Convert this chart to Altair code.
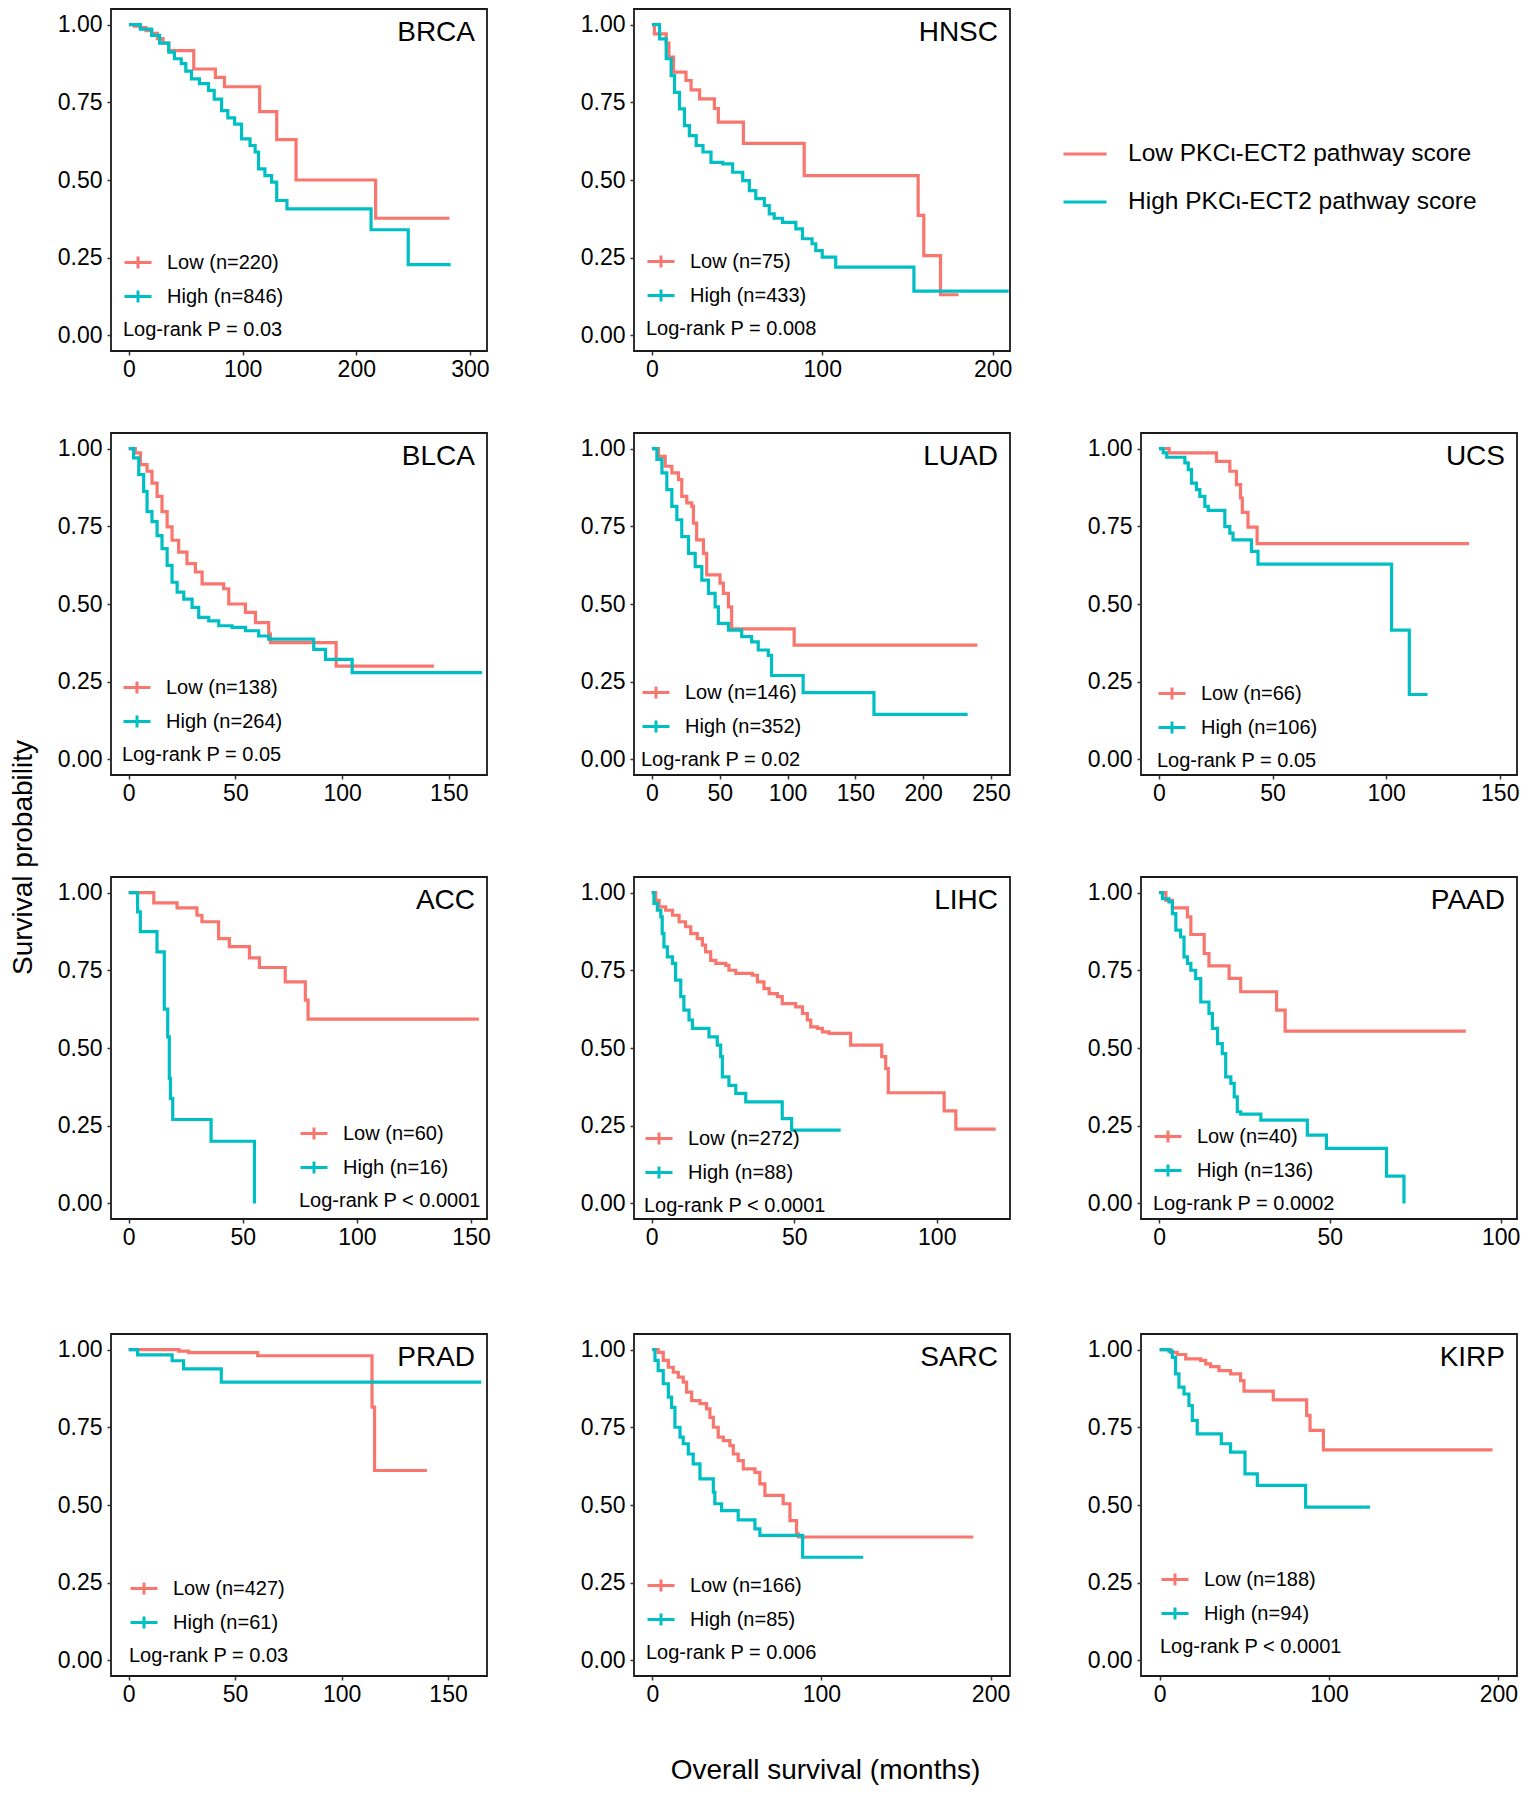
import altair as alt
import pandas as pd

RED = "#F8766D"
TEAL = "#00BFC4"
FONT = "Liberation Sans"

# ---------------- data ----------------
PANELS = ["BRCA", "HNSC", "BLCA", "LUAD", "UCS", "ACC", "LIHC", "PAAD", "PRAD", "SARC", "KIRP"]
N_LOW = [220, 75, 138, 146, 66, 60, 272, 40, 427, 166, 188]
N_HIGH = [846, 433, 264, 352, 106, 16, 88, 136, 61, 85, 94]
P_TEXT = ["= 0.03", "= 0.008", "= 0.05", "= 0.02", "= 0.05", "< 0.0001", "< 0.0001",
          "= 0.0002", "= 0.03", "= 0.006", "< 0.0001"]
X_TICKS = [[0, 100, 200, 300], [0, 100, 200], [0, 50, 100, 150], [0, 50, 100, 150, 200, 250],
           [0, 50, 100, 150], [0, 50, 100, 150], [0, 50, 100], [0, 50, 100],
           [0, 50, 100, 150], [0, 100, 200], [0, 100, 200]]
Y_TICKS = [0, 0.25, 0.5, 0.75, 1.0]

BRCA_LOW_T = [0, 5, 10, 15, 20, 25, 30, 35, 57, 76, 84, 115, 130, 147, 217, 282]
BRCA_LOW_S = [1.0, 0.995, 0.99, 0.98, 0.972, 0.955, 0.94, 0.916, 0.857, 0.83, 0.80, 0.72, 0.63, 0.50, 0.377, 0.377]
BRCA_HIGH_T = [0, 10, 20, 27, 35, 40, 46, 50, 55, 62, 70, 75, 81.5, 87, 93, 99, 106.5, 111, 114, 119.6, 125.5, 130, 139, 213, 245.7, 283]
BRCA_HIGH_S = [1.0, 0.985, 0.965, 0.94, 0.911, 0.89, 0.874, 0.85, 0.825, 0.81, 0.788, 0.76, 0.723, 0.70, 0.68, 0.632, 0.611, 0.59, 0.536, 0.514, 0.493, 0.434, 0.407, 0.34, 0.228, 0.228]

HNSC_LOW_T = [0, 1.5, 8.4, 10, 12.7, 20, 23, 28, 36.7, 39, 53.7, 89.4, 156.3, 159.6, 169.4, 180]
HNSC_LOW_S = [1.0, 0.97, 0.94, 0.895, 0.847, 0.82, 0.79, 0.761, 0.73, 0.686, 0.618, 0.514, 0.386, 0.257, 0.131, 0.131]
HNSC_HIGH_T = [0, 4.5, 8.4, 11.3, 13.3, 16.2, 19.1, 22, 26, 30, 34.7, 41.6, 47.4, 53.3, 57.2, 61, 66, 68.9, 71.8, 76.7, 84.5, 88.4, 94, 96.2, 100, 107.9, 153.8, 209.4]
HNSC_HIGH_S = [1.0, 0.954, 0.89, 0.836, 0.782, 0.729, 0.675, 0.643, 0.611, 0.59, 0.557, 0.552, 0.525, 0.498, 0.466, 0.44, 0.418, 0.391, 0.377, 0.364, 0.343, 0.311, 0.295, 0.273, 0.252, 0.22, 0.1425, 0.1425]

BLCA_LOW_T = [0, 3.1, 5.5, 8.6, 10.9, 13.3, 15.6, 18, 20.3, 23.4, 27.3, 31.25, 34.4, 44.5, 46.9, 54.7, 59.4, 65.6, 66.4, 97.2, 143]
BLCA_LOW_S = [1.0, 0.986, 0.948, 0.927, 0.889, 0.846, 0.797, 0.748, 0.705, 0.667, 0.63, 0.603, 0.565, 0.549, 0.50, 0.473, 0.44, 0.403, 0.376, 0.30, 0.30]
BLCA_HIGH_T = [0, 2.3, 4.7, 7, 8.6, 10.9, 13.3, 15.6, 18, 20.3, 22.7, 25.8, 29.7, 32.8, 37.5, 42.2, 48.4, 54.7, 60.9, 65.6, 86.7, 92.2, 104.7, 165.6]
BLCA_HIGH_S = [1.0, 0.97, 0.916, 0.862, 0.797, 0.765, 0.72, 0.678, 0.624, 0.57, 0.538, 0.516, 0.489, 0.457, 0.446, 0.43, 0.425, 0.414, 0.397, 0.387, 0.354, 0.322, 0.279, 0.279]

LUAD_LOW_T = [0, 4.9, 9.8, 14.7, 19.6, 22, 25.7, 29.4, 30.6, 33, 38, 40.4, 50.2, 52.7, 56.4, 58.8, 104.9, 240]
LUAD_LOW_S = [1.0, 0.975, 0.943, 0.922, 0.9, 0.846, 0.825, 0.814, 0.76, 0.706, 0.663, 0.594, 0.567, 0.534, 0.491, 0.42, 0.368, 0.368]
LUAD_HIGH_T = [0, 3.7, 7.4, 11, 14.7, 18.4, 22, 27, 31.9, 36.8, 41.7, 46.6, 49, 56.4, 66.2, 73.5, 78.4, 85.8, 88.2, 111.5, 163.7, 232.8]
LUAD_HIGH_S = [1.0, 0.965, 0.922, 0.868, 0.814, 0.771, 0.717, 0.663, 0.62, 0.577, 0.534, 0.491, 0.438, 0.416, 0.395, 0.378, 0.352, 0.335, 0.27, 0.215, 0.145, 0.145]

UCS_LOW_T = [0, 4.5, 25.3, 31.2, 34.1, 35.9, 36.7, 39.2, 43.2, 136.5]
UCS_LOW_S = [1.0, 0.986, 0.959, 0.927, 0.884, 0.841, 0.795, 0.747, 0.694, 0.694]
UCS_HIGH_T = [0, 1.9, 3.4, 11.4, 12.9, 14.3, 16.5, 18, 20.2, 21.7, 29, 31.2, 32.6, 40.7, 43.6, 102.4, 110.2, 118.2]
UCS_HIGH_S = [1.0, 0.986, 0.972, 0.954, 0.932, 0.889, 0.868, 0.846, 0.814, 0.801, 0.749, 0.728, 0.706, 0.669, 0.628, 0.416, 0.209, 0.209]

ACC_LOW_T = [0, 11, 21.2, 29.9, 32.1, 39.4, 44.1, 52.9, 57.3, 68.6, 77.4, 78.6, 153.4]
ACC_LOW_S = [1.0, 0.967, 0.951, 0.927, 0.906, 0.852, 0.826, 0.79, 0.759, 0.713, 0.654, 0.593, 0.593]
ACC_HIGH_T = [0, 3.9, 5.1, 12.4, 15.6, 17.1, 17.8, 18.3, 19.3, 36.1, 55.1]
ACC_HIGH_S = [1.0, 0.938, 0.874, 0.809, 0.625, 0.536, 0.402, 0.338, 0.27, 0.20, 0.0]

LIHC_LOW_T = [0, 1.4, 2.6, 4.9, 7.3, 9.6, 11.9, 13.7, 16, 17.8, 18.9, 20.7, 22.5, 26, 27.1, 29.5, 35.3, 37.1, 39.4, 41.2,
              44.1, 45.8, 50.5, 52.9, 54.6, 55.8, 58.1, 59.9, 62.2, 69.8, 80.7, 82.1, 83, 102.6, 106.7, 120.7]
LIHC_LOW_S = [1.0, 0.975, 0.954, 0.943, 0.927, 0.906, 0.89, 0.868, 0.852, 0.831, 0.809, 0.782, 0.772, 0.766, 0.75, 0.74, 0.734, 0.713, 0.691, 0.675,
              0.665, 0.643, 0.632, 0.611, 0.59, 0.568, 0.563, 0.552, 0.547, 0.509, 0.472, 0.434, 0.356, 0.298, 0.239, 0.239]
LIHC_HIGH_T = [0, 0.8, 2, 3.2, 3.7, 4.3, 5.5, 7.3, 8.4, 10.2, 11.3, 13.1, 14.3, 20.1, 23, 24.2, 24.8, 27.1, 29.5, 33, 45.8, 49.1, 66.3]
LIHC_HIGH_S = [1.0, 0.965, 0.943, 0.922, 0.868, 0.825, 0.793, 0.772, 0.718, 0.665, 0.622, 0.59, 0.563, 0.536, 0.509, 0.472, 0.407, 0.38, 0.354, 0.327, 0.273, 0.236, 0.236]

PAAD_LOW_T = [0, 2, 3.9, 8.3, 9.3, 13.2, 14.6, 20.5, 23.9, 34.4, 36.9, 89.8]
PAAD_LOW_S = [1.0, 0.975, 0.951, 0.922, 0.865, 0.804, 0.764, 0.724, 0.681, 0.622, 0.554, 0.554]
PAAD_HIGH_T = [0, 1, 2.9, 3.9, 4.9, 6.3, 7.3, 8.3, 9.3, 10.7, 12.2, 14.6, 15.6, 17.1, 18.5, 19.5, 21, 22, 22.9, 23.9, 29.8, 43.4, 49, 66.6, 71.7]
PAAD_HIGH_S = [1.0, 0.98, 0.97, 0.932, 0.879, 0.857, 0.793, 0.772, 0.75, 0.723, 0.648, 0.611, 0.563, 0.514, 0.482, 0.407, 0.386, 0.343, 0.295, 0.287, 0.268, 0.22, 0.177, 0.088, 0.0]

PRAD_LOW_T = [0, 23.5, 28.2, 60.6, 114.3, 115.5, 140.1]
PRAD_LOW_S = [1.0, 0.995, 0.99, 0.98, 0.815, 0.611, 0.611]
PRAD_HIGH_T = [0, 4.2, 20.4, 25.8, 43.5, 165.6]
PRAD_HIGH_S = [1.0, 0.983, 0.964, 0.938, 0.895, 0.895]

SARC_LOW_T = [0, 3.5, 6.5, 9.5, 12.4, 15.4, 18.3, 20.3, 23.3, 28.2, 32.1, 34.1, 36.1, 39, 42, 45.9, 47.9, 50.8, 53.8, 60.7, 63.6, 66.6, 77.4, 81.4, 85.3, 86.3, 189.8]
SARC_LOW_S = [1.0, 0.991, 0.965, 0.943, 0.927, 0.911, 0.895, 0.863, 0.836, 0.826, 0.809, 0.782, 0.75, 0.718, 0.707, 0.691, 0.664, 0.643, 0.616, 0.605, 0.568, 0.531, 0.504, 0.45, 0.407, 0.397, 0.397]
SARC_HIGH_T = [0, 1.6, 3.5, 6.5, 9.5, 11.4, 13.4, 16.4, 18.3, 21.3, 24.2, 28.2, 36.1, 37, 41, 50.8, 60.7, 63.6, 88.9, 124.7]
SARC_HIGH_S = [1.0, 0.965, 0.932, 0.89, 0.847, 0.814, 0.75, 0.718, 0.697, 0.664, 0.632, 0.584, 0.541, 0.504, 0.482, 0.452, 0.423, 0.402, 0.332, 0.332]

KIRP_LOW_T = [0, 6.5, 10.4, 15.4, 24.2, 27.2, 30.1, 35, 41.9, 47.8, 49.8, 67.1, 86.8, 88.8, 96.7, 196.5]
KIRP_LOW_S = [1.0, 0.991, 0.984, 0.97, 0.965, 0.954, 0.945, 0.932, 0.922, 0.9, 0.866, 0.838, 0.788, 0.74, 0.677, 0.677]
KIRP_HIGH_T = [0, 5.5, 7.5, 9.4, 11.4, 14.4, 17.3, 19.3, 22.2, 36.4, 41.9, 50.4, 57.7, 86.2, 124.2]
KIRP_HIGH_S = [1.0, 0.995, 0.975, 0.922, 0.879, 0.857, 0.82, 0.772, 0.729, 0.697, 0.67, 0.6, 0.563, 0.493, 0.493]

CURVES = {
    "BRCA": (BRCA_LOW_T, BRCA_LOW_S, BRCA_HIGH_T, BRCA_HIGH_S),
    "HNSC": (HNSC_LOW_T, HNSC_LOW_S, HNSC_HIGH_T, HNSC_HIGH_S),
    "BLCA": (BLCA_LOW_T, BLCA_LOW_S, BLCA_HIGH_T, BLCA_HIGH_S),
    "LUAD": (LUAD_LOW_T, LUAD_LOW_S, LUAD_HIGH_T, LUAD_HIGH_S),
    "UCS": (UCS_LOW_T, UCS_LOW_S, UCS_HIGH_T, UCS_HIGH_S),
    "ACC": (ACC_LOW_T, ACC_LOW_S, ACC_HIGH_T, ACC_HIGH_S),
    "LIHC": (LIHC_LOW_T, LIHC_LOW_S, LIHC_HIGH_T, LIHC_HIGH_S),
    "PAAD": (PAAD_LOW_T, PAAD_LOW_S, PAAD_HIGH_T, PAAD_HIGH_S),
    "PRAD": (PRAD_LOW_T, PRAD_LOW_S, PRAD_HIGH_T, PRAD_HIGH_S),
    "SARC": (SARC_LOW_T, SARC_LOW_S, SARC_HIGH_T, SARC_HIGH_S),
    "KIRP": (KIRP_LOW_T, KIRP_LOW_S, KIRP_HIGH_T, KIRP_HIGH_S),
}

# ---------------- layout / style (not data) ----------------
X_DOMAIN = {
    "BRCA": [-15.8, 315], "HNSC": [-10.5, 210.2], "BLCA": [-8.3, 167.9], "LUAD": [-13.2, 264],
    "UCS": [-7.9, 157.6], "ACC": [-7.75, 157], "LIHC": [-6.2, 125.7], "PAAD": [-5.3, 104.8],
    "PRAD": [-8.3, 168.3], "SARC": [-10.8, 211.5], "KIRP": [-11, 211],
}
LEGEND_POS = {
    "BRCA": (12, 238.5), "HNSC": (12, 237.5), "BLCA": (11, 239.5), "LUAD": (7, 244.5),
    "UCS": (16, 245.5), "ACC": (188, 241.5), "LIHC": (10, 246.5), "PAAD": (12, 244.5),
    "PRAD": (18, 239.5), "SARC": (12, 236.5), "KIRP": (19, 230.5),
}
PW, PH = 376, 342
COL_GAPS = [147, 131]
ROW_GAPS = [82, 102, 115]
CROSS = "M-1,0L1,0M0,-0.45L0,0.45"

color_scale = alt.Scale(domain=["Low", "High"], range=[RED, TEAL])


def panel(idx):
    name = PANELS[idx]
    lt, ls, ht, hs = CURVES[name]
    rows = []
    for i, (t, s) in enumerate(zip(lt, ls)):
        rows.append({"t": t, "s": s, "group": "Low", "i": i})
    for i, (t, s) in enumerate(zip(ht, hs)):
        rows.append({"t": t, "s": s, "group": "High", "i": i})
    df = pd.DataFrame(rows)
    lx, ly = LEGEND_POS[name]
    legend = alt.Legend(
        orient="none", legendX=lx, legendY=ly, padding=0,
        title=f"Log-rank P {P_TEXT[idx]}", titleOrient="bottom", titleAnchor="start",
        titleFontSize=20, titleFontWeight="normal", titleFont=FONT, titleColor="black",
        titlePadding=11, titleLimit=500,
        labelExpr=f"datum.label == 'Low' ? 'Low (n={N_LOW[idx]})' : 'High (n={N_HIGH[idx]})'",
        labelFontSize=20, labelFont=FONT, labelColor="black", labelLimit=500, labelOffset=14,
        symbolType=CROSS, symbolSize=729, symbolStrokeWidth=3, rowPadding=6,
    )
    return alt.Chart(df).mark_line(interpolate="step-after", strokeWidth=3.2, clip=True).encode(
        x=alt.X("t:Q", scale=alt.Scale(domain=X_DOMAIN[name], nice=False, zero=False),
                axis=alt.Axis(values=X_TICKS[idx], format="d", title=None)),
        y=alt.Y("s:Q", scale=alt.Scale(domain=[-0.05, 1.05], nice=False, zero=False),
                axis=alt.Axis(values=Y_TICKS, format=".2f", title=None)),
        color=alt.Color("group:N", scale=color_scale, legend=legend),
        order=alt.Order("i:Q"),
    ).properties(
        width=PW, height=PH,
        title=alt.TitleParams(text=name, orient="top", anchor="end", frame="group",
                              offset=-60, dx=-12, baseline="alphabetic", fontSize=28,
                              fontWeight="normal", font=FONT, color="black"),
    )


def legend_cell():
    df = pd.DataFrame({"t": [0.5, 0.5], "s": [0.5, 0.5], "group": ["Low", "High"]})
    legend = alt.Legend(
        orient="none", legendX=-79, legendY=122, padding=0, title=None,
        labelExpr="datum.label == 'Low' ? 'Low PKC\u03b9-ECT2 pathway score' : 'High PKC\u03b9-ECT2 pathway score'",
        labelFontSize=24.5, labelFont=FONT, labelColor="black", labelLimit=600, labelOffset=20,
        symbolType="stroke", symbolSize=1849, symbolStrokeWidth=3, rowPadding=13,
    )
    return alt.Chart(df).mark_line(strokeWidth=3).encode(
        x=alt.X("t:Q", axis=None, scale=alt.Scale(domain=[0, 1])),
        y=alt.Y("s:Q", axis=None, scale=alt.Scale(domain=[0, 1])),
        color=alt.Color("group:N", scale=color_scale, legend=legend),
    ).properties(width=PW, height=PH, view=alt.ViewBackground(stroke="transparent"))


def spacer(w, h):
    return alt.Chart(pd.DataFrame({"v": [0]})).mark_point(
        opacity=0, size=0, strokeWidth=0
    ).encode(
        x=alt.value(w / 2), y=alt.value(h / 2)
    ).properties(width=w, height=h, view=alt.ViewBackground(stroke="transparent"))


layout_rows = [[0, 1, "legend"], [2, 3, 4], [5, 6, 7], [8, 9, 10]]
cells = []
for r, prow in enumerate(layout_rows):
    for c, item in enumerate(prow):
        cells.append(legend_cell() if item == "legend" else panel(item))
        if c < 2:
            cells.append(spacer(COL_GAPS[c], PH))
    if r < 3:
        for c in range(3):
            cells.append(spacer(PW, ROW_GAPS[r]))
            if c < 2:
                cells.append(spacer(COL_GAPS[c], ROW_GAPS[r]))

grid = alt.concat(
    *cells, columns=5, spacing=0, bounds="flush",
    title=alt.TitleParams(text="Survival probability", orient="left", anchor="middle",
                          fontSize=28, fontWeight="normal", font=FONT, color="black", offset=18),
).resolve_scale(color="independent", x="independent", y="independent").resolve_legend(color="independent")

chart = alt.vconcat(
    grid,
    title=alt.TitleParams(text="Overall survival (months)", orient="bottom", anchor="middle",
                          fontSize=28, fontWeight="normal", font=FONT, color="black",
                          offset=50, dx=60),
).properties(padding={"left": 2, "top": 0, "right": 0, "bottom": 0}).configure(font=FONT).configure_view(
    stroke="#1a1a1a", strokeWidth=1.8
).configure_axis(
    labelFont=FONT, labelFontSize=23, labelColor="black", tickColor="#333333",
    tickSize=4, tickWidth=1.5, domain=False, grid=False, labelFlush=False,
).configure_axisX(labelPadding=3).configure_axisY(labelPadding=5)

chart.save("out.html", embed_options={"renderer": "svg", "actions": False})
